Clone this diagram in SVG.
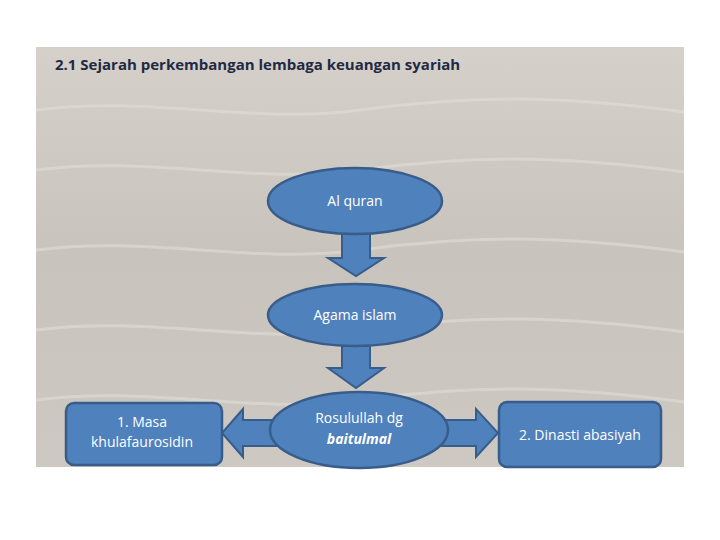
<svg xmlns="http://www.w3.org/2000/svg" width="720" height="540" viewBox="0 0 720 540">
<style>
.n{fill:#4f81bd;stroke:#385d8a;stroke-width:2.5}
.a{fill:#4f81bd;stroke:#385d8a;stroke-width:2}
.t{font-family:"Open Sans","Liberation Sans",sans-serif;font-size:14px;fill:#fff;text-anchor:middle}
</style>
<defs>
<linearGradient id="bg" x1="0" y1="0" x2="0" y2="1">
<stop offset="0" stop-color="#d6d0ca"/><stop offset="0.5" stop-color="#c9c3bd"/><stop offset="1" stop-color="#cec8c2"/>
</linearGradient>
</defs>
<rect width="720" height="540" fill="#fff"/>
<rect x="36" y="47" width="648" height="420" fill="url(#bg)"/>
<g stroke="#e2ddd8" stroke-width="3" fill="none" opacity="0.6">
<path d="M36 110 C150 95 250 125 360 110 S560 95 684 112"/>
<path d="M36 170 C150 155 250 185 360 170 S560 155 684 172"/>
<path d="M36 250 C150 235 250 265 360 250 S560 235 684 252"/>
<path d="M36 330 C150 315 250 345 360 330 S560 315 684 332"/>
<path d="M36 400 C150 385 250 415 360 400 S560 385 684 402"/>
</g>
<text x="55" y="70" font-family="Open Sans,Liberation Sans,sans-serif" font-size="15" font-weight="bold" fill="#1f2a44">2.1 Sejarah perkembangan lembaga keuangan syariah</text>
<g id="connectors">
<polygon class="a" points="342,234 370,234 370,258 384,258 356,276 328,258 342,258"/>
<polygon class="a" points="342,346 370,346 370,368 384,368 356,388 328,368 342,368"/>
<polygon class="a" points="276,420 243,420 243,409 222,433 243,457 243,446 276,446"/>
<polygon class="a" points="438,420 476,420 476,409 498,433 476,457 476,446 438,446"/>
</g>
<g id="alquran"><ellipse class="n" cx="355" cy="201" rx="87" ry="33"/><text class="t" x="355" y="206">Al quran</text></g>
<g id="agama"><ellipse class="n" cx="355" cy="315" rx="87" ry="31"/><text class="t" x="355" y="320">Agama islam</text></g>
<g id="rosul"><ellipse class="n" cx="359" cy="430" rx="89" ry="38"/><text class="t" x="359" y="423">Rosulullah  dg</text><text class="t" x="359" y="444" font-style="italic" font-weight="bold">baitulmal</text></g>
<g id="masa"><rect class="n" x="66" y="403" width="156" height="62" rx="8"/><text class="t" x="142" y="427">1. Masa</text><text class="t" x="142" y="447">khulafaurosidin</text></g>
<g id="dinasti"><rect class="n" x="499" y="402" width="162" height="65" rx="8"/><text class="t" x="580" y="440">2. Dinasti abasiyah</text></g>
</svg>
